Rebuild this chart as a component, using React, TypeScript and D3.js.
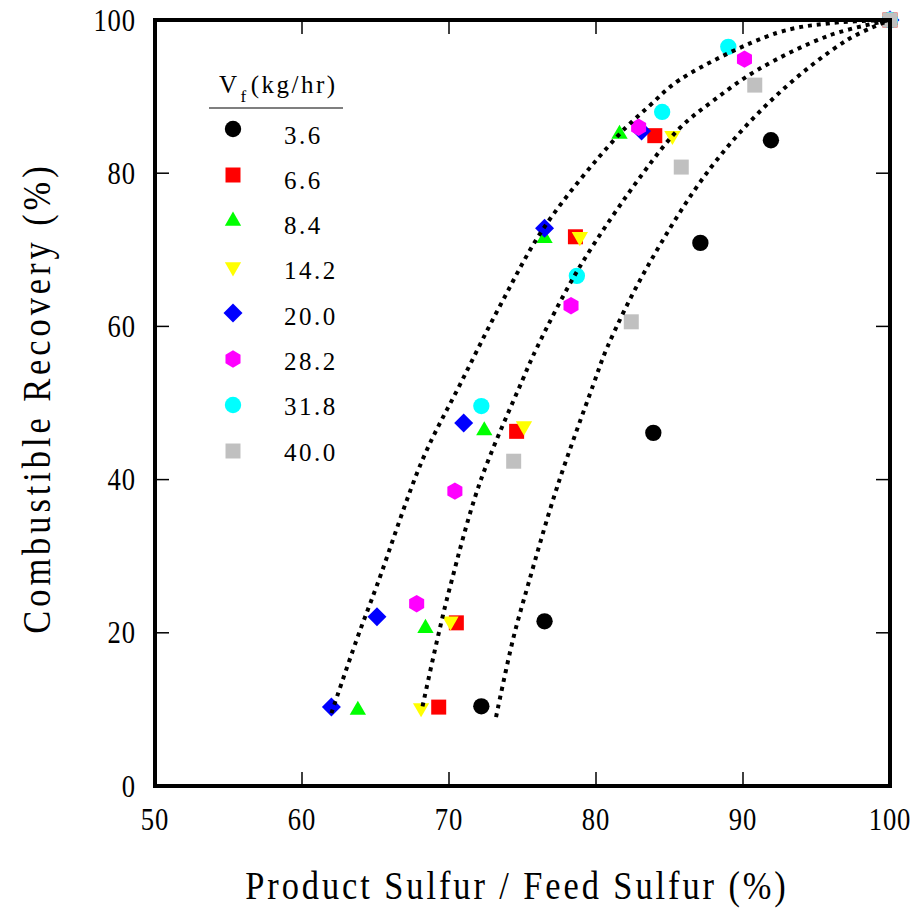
import React from "react";
import * as d3 from "d3";

// Feed rates (kg/hr) for each data series
const feedRates = ["3.6", "6.6", "8.4", "14.2", "20.0", "28.2", "31.8", "40.0"];

// Product sulfur / feed sulfur (%) and combustible recovery (%) per feed rate
const sulfur36 = [72.2, 76.5, 83.9, 87.1, 91.9, 100];
const recovery36 = [10.4, 21.5, 46.1, 70.9, 84.3, 100];
const sulfur66 = [69.3, 70.5, 74.6, 78.6, 84.0, 100];
const recovery66 = [10.3, 21.3, 46.3, 71.7, 84.9, 100];
const sulfur84 = [63.8, 68.4, 72.4, 76.5, 81.6, 100];
const recovery84 = [9.9, 20.6, 46.4, 71.5, 85.1, 100];
const sulfur142 = [68.1, 70.1, 75.1, 78.9, 85.2, 100];
const recovery142 = [10.2, 21.5, 47.0, 71.7, 84.9, 100];
const sulfur200 = [62.0, 65.1, 71.0, 76.5, 83.1, 100];
const recovery200 = [10.3, 22.1, 47.4, 72.8, 85.5, 100];
const sulfur282 = [67.8, 70.4, 78.3, 82.9, 90.1, 100];
const recovery282 = [23.8, 38.5, 62.7, 86.0, 94.9, 100];
const sulfur318 = [72.2, 78.7, 84.5, 89.0, 100];
const recovery318 = [49.6, 66.6, 88.0, 96.5, 100];
const sulfur400 = [74.4, 82.4, 85.8, 90.8, 100];
const recovery400 = [42.4, 60.6, 80.8, 91.5, 100];

// Dotted trend curves
const trendAX = [62.0, 63.7, 65.1, 68.2, 70.8, 73.5, 76.5, 81.4, 83.7, 85.7, 92.3, 96.0, 100];
const trendAY = [9.5, 19.0, 26.2, 42.6, 52.6, 62.8, 73.0, 84.7, 88.9, 92.2, 98.3, 99.6, 100];
const trendBX = [68.2, 69.2, 70.1, 72.1, 75.0, 76.0, 78.9, 83.2, 85.7, 88.0, 91.0, 95.9, 100];
const trendBY = [10.4, 19.1, 26.2, 39.6, 53.0, 57.3, 67.8, 80.0, 85.9, 89.5, 93.5, 98.0, 100];
const trendCX = [73.2, 74.35, 75.4, 77.35, 79.8, 80.75, 83.5, 87.8, 92.3, 97.1, 100];
const trendCY = [9.0, 19.1, 26.4, 39.0, 52.3, 57.2, 67.8, 80.7, 90.2, 97.4, 100];

const xTicks = [50, 60, 70, 80, 90, 100];
const yTicks = [0, 20, 40, 60, 80, 100];

const W = 915;
const H = 911;
const FONT = "'Liberation Serif', 'Times New Roman', serif";

const symbolHexagon = {
  draw(ctx: any, size: number) {
    const r = Math.sqrt((2 * size) / (3 * Math.sqrt(3)));
    for (let i = 0; i < 6; i++) {
      const a = -Math.PI / 2 + (i * Math.PI) / 3;
      const px = r * Math.cos(a);
      const py = r * Math.sin(a);
      if (i === 0) ctx.moveTo(px, py);
      else ctx.lineTo(px, py);
    }
    ctx.closePath();
  },
};

type Style = { type: any; size: number; rotate: number; fill: string };

const styles: Style[] = [
  { type: d3.symbolCircle, size: 210, rotate: 0, fill: "#000000" },
  { type: d3.symbolSquare, size: 225, rotate: 0, fill: "#ff0000" },
  { type: d3.symbolTriangle, size: 115, rotate: 0, fill: "#00ff00" },
  { type: d3.symbolTriangle, size: 115, rotate: 180, fill: "#ffff00" },
  { type: d3.symbolSquare, size: 180, rotate: 45, fill: "#0000ff" },
  { type: symbolHexagon, size: 196, rotate: 0, fill: "#ff00ff" },
  { type: d3.symbolCircle, size: 210, rotate: 0, fill: "#00ffff" },
  { type: d3.symbolSquare, size: 225, rotate: 0, fill: "#c0c0c0" },
];

const seriesX = [sulfur36, sulfur66, sulfur84, sulfur142, sulfur200, sulfur282, sulfur318, sulfur400];
const seriesY = [recovery36, recovery66, recovery84, recovery142, recovery200, recovery282, recovery318, recovery400];

export default function App() {
  const left = 155, right = 890, top = 20, bottom = 786;
  const x = d3.scaleLinear().domain([50, 100]).range([left, right]);
  const y = d3.scaleLinear().domain([0, 100]).range([bottom, top]);
  const tickLen = 14;
  const narrow = 0.86;

  const line = d3
    .line<[number, number]>()
    .x((d) => x(d[0]))
    .y((d) => y(d[1]))
    .curve(d3.curveCatmullRom.alpha(0.5));

  const trends = [
    trendAX.map((v, i) => [v, trendAY[i]] as [number, number]),
    trendBX.map((v, i) => [v, trendBY[i]] as [number, number]),
    trendCX.map((v, i) => [v, trendCY[i]] as [number, number]),
  ];

  const symPath = (s: Style) => d3.symbol().type(s.type).size(s.size)() as string;

  const legendX = 233;
  const legendTextX = 284;

  return (
    <svg
      width={W}
      height={H}
      style={{ position: "absolute", left: 0, top: 0, background: "#fff" }}
      fontFamily={FONT}
    >
      <rect x={0} y={0} width={W} height={H} fill="#fff" />

      {/* markers */}
      {seriesX.map((xs, si) =>
        xs.map((v, i) => (
          <path
            key={`m-${si}-${i}`}
            d={symPath(styles[si])}
            fill={styles[si].fill}
            transform={`translate(${x(v)},${y(seriesY[si][i])}) rotate(${styles[si].rotate})`}
          />
        ))
      )}

      {/* dotted trend curves */}
      {trends.map((t, i) => (
        <path
          key={`t-${i}`}
          d={line(t) as string}
          fill="none"
          stroke="#000"
          strokeWidth={4}
          strokeDasharray="4 5"
        />
      ))}

      {/* ticks on all sides */}
      {xTicks.slice(1, -1).map((t) => (
        <g key={`xt-${t}`} stroke="#000" strokeWidth={1.5}>
          <line x1={x(t)} x2={x(t)} y1={bottom} y2={bottom - tickLen} />
          <line x1={x(t)} x2={x(t)} y1={top} y2={top + tickLen} />
        </g>
      ))}
      {yTicks.slice(1, -1).map((t) => (
        <g key={`yt-${t}`} stroke="#000" strokeWidth={1.5}>
          <line x1={left} x2={left + tickLen} y1={y(t)} y2={y(t)} />
          <line x1={right} x2={right - tickLen} y1={y(t)} y2={y(t)} />
        </g>
      ))}

      {/* frame */}
      <rect
        x={left}
        y={top}
        width={right - left}
        height={bottom - top}
        fill="none"
        stroke="#000"
        strokeWidth={4}
      />

      {/* tick labels */}
      {xTicks.map((t) => (
        <text
          key={`xl-${t}`}
          transform={`translate(${x(t)},830) scale(${narrow},1)`}
          textAnchor="middle"
          fontSize={31}
          letterSpacing={1}
        >
          {t}
        </text>
      ))}
      {yTicks.map((t) => (
        <text
          key={`yl-${t}`}
          transform={`translate(136,${y(t) + 10.5}) scale(${narrow},1)`}
          textAnchor="end"
          fontSize={31}
          letterSpacing={1}
        >
          {t}
        </text>
      ))}

      {/* axis titles */}
      <text
        transform={`translate(517,899) scale(${narrow},1)`}
        textAnchor="middle"
        fontSize={40}
        letterSpacing={3.4}
      >
        Product Sulfur / Feed Sulfur  (%)
      </text>
      <text
        transform={`translate(50,398) rotate(-90) scale(${narrow},1)`}
        textAnchor="middle"
        fontSize={40}
        letterSpacing={4.6}
      >
        Combustible Recovery  (%)
      </text>

      {/* legend */}
      <text x={219} y={93} fontSize={25} letterSpacing={2.5}>
        V
        <tspan fontSize={17} dy={9} dx={1}>
          f
        </tspan>
        <tspan dy={-9} dx={2}>
          (kg/hr)
        </tspan>
      </text>
      <line x1={209} x2={343} y1={108} y2={108} stroke="#000" strokeWidth={1.2} />
      {feedRates.map((label, i) => {
        const rowText = 135 + i * 45.3;
        const rowMark = 129 + i * 46;
        const s = styles[i];
        return (
          <g key={`lg-${label}`}>
            <path
              d={symPath(s)}
              fill={s.fill}
              transform={`translate(${legendX},${rowMark}) rotate(${s.rotate})`}
            />
            <text
              x={legendTextX}
              y={rowText}
              dominantBaseline="central"
              fontSize={25}
              letterSpacing={2.5}
            >
              {label}
            </text>
          </g>
        );
      })}
    </svg>
  );
}
